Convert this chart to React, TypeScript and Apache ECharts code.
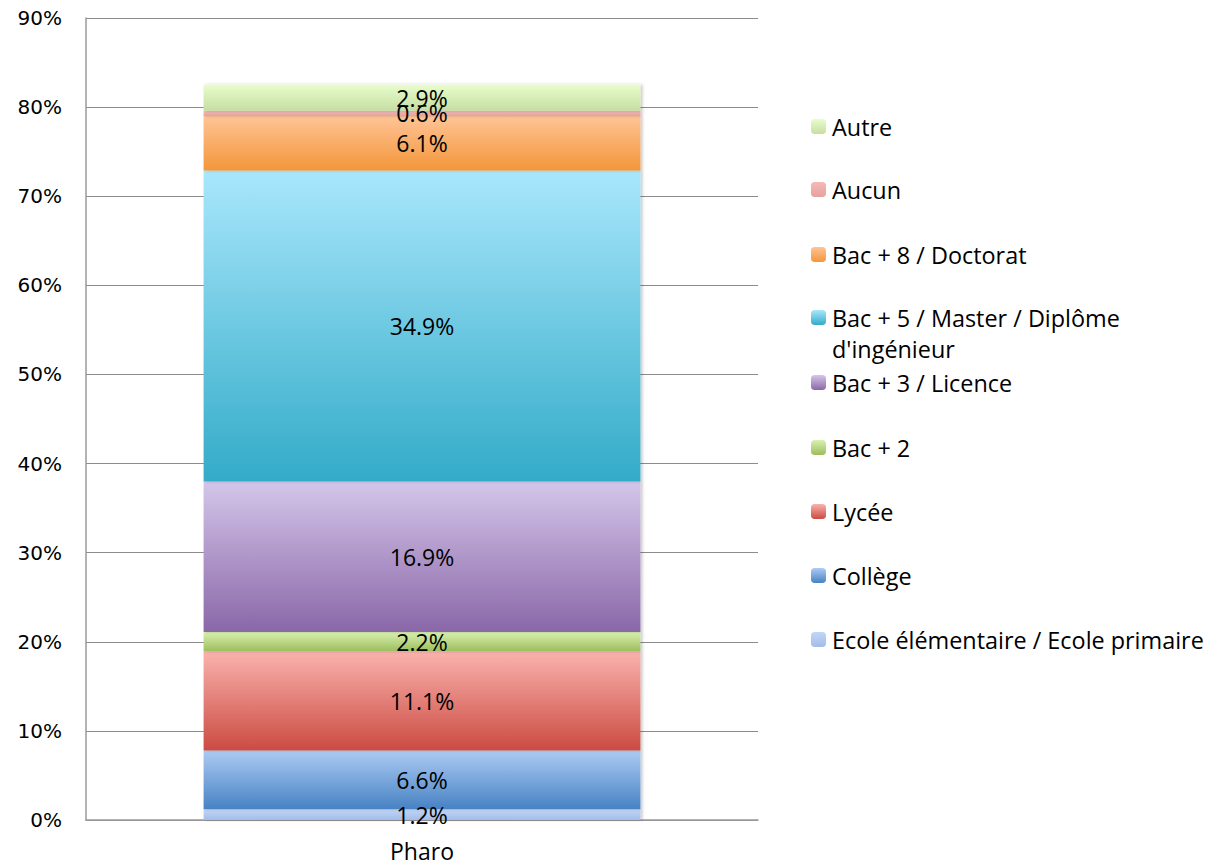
import React, { useEffect, useRef } from "react";
import * as echarts from "echarts";

const categories = ["Pharo"];
const seriesNames = [
  "Ecole élémentaire / Ecole primaire",
  "Collège",
  "Lycée",
  "Bac + 2",
  "Bac + 3 / Licence",
  "Bac + 5 / Master / Diplôme d'ingénieur",
  "Bac + 8 / Doctorat",
  "Aucun",
  "Autre",
];
const seriesValues = [1.2, 6.6, 11.1, 2.2, 16.9, 34.9, 6.1, 0.6, 2.9];
const yTicks = { min: 0, max: 90, interval: 10 };

const gradients: [string, string][] = [
  ["#c2d6f6", "#a3bde9"],
  ["#adcbf4", "#4782c3"],
  ["#fab2ad", "#cb4b42"],
  ["#d9f1b0", "#9cbd5c"],
  ["#d4c6ea", "#8a67a8"],
  ["#a9e7fc", "#33abc8"],
  ["#fec496", "#f4963a"],
  ["#f6b8b6", "#e5a2a0"],
  ["#e8fdcc", "#c6dea2"],
];

const legendOrder = [...seriesNames].reverse();
const legendIconTops = [115, 178, 243, 310, 371, 436, 500, 564, 628];

const FONT = "'Open Sans', 'Noto Sans', sans-serif";

export default function App() {
  const ref = useRef<HTMLDivElement>(null);
  useEffect(() => {
    if (!ref.current) return;
    const chart = echarts.init(ref.current, undefined, { renderer: "svg" });
    const series = seriesNames.map((name, i) => ({
      name,
      type: "bar",
      stack: "total",
      barWidth: "65%",
      data: [seriesValues[i]],
      itemStyle: {
        color: new echarts.graphic.LinearGradient(0, 0, 0, 1, [
          { offset: 0, color: gradients[i][0] },
          { offset: 1, color: gradients[i][1] },
        ]),
        shadowColor: "rgba(0,0,0,0.22)",
        shadowBlur: 3,
        shadowOffsetX: 2,
      },
      label: {
        show: true,
        position: "inside",
        color: "#000",
        fontSize: 23,
        fontFamily: FONT,
        formatter: (p: any) => `${p.value}%`,
      },
    }));
    const legends = legendOrder.map((name, i) => {
      const multi = name.startsWith("Bac + 5");
      const lh = 31;
      return {
        orient: "vertical",
        left: 811,
        top: multi ? legendIconTops[i] - (1.5 * lh - 7.5) : legendIconTops[i],
        padding: 0,
        itemWidth: 15,
        itemHeight: 15,
        selectedMode: false,
        data: [name],
        formatter: multi
          ? () => "\nBac + 5 / Master / Diplôme\nd'ingénieur"
          : undefined,
        textStyle: {
          color: "#000",
          fontSize: 23.4,
          fontFamily: FONT,
          lineHeight: multi ? lh : undefined,
          padding: [0, 0, 0, 1],
        },
      };
    });
    chart.setOption({
      animation: false,
      backgroundColor: "#fff",
      grid: { left: 86, right: 450, top: 18, bottom: 46 },
      legend: legends,
      xAxis: {
        type: "category",
        data: categories,
        axisLine: { show: true, lineStyle: { color: "#9a9a9a", width: 1.5 } },
        axisTick: { show: false },
        axisLabel: {
          color: "#000",
          fontSize: 23,
          fontFamily: FONT,
          margin: 19,
        },
      },
      yAxis: {
        type: "value",
        min: yTicks.min,
        max: yTicks.max,
        interval: yTicks.interval,
        axisLine: { show: true, lineStyle: { color: "#9a9a9a", width: 1.5 } },
        axisTick: { show: false },
        splitLine: { show: true, lineStyle: { color: "#8c8c8c", width: 1 } },
        axisLabel: {
          color: "#000",
          fontSize: 20,
          fontFamily: "'DejaVu Sans', sans-serif",
          margin: 24,
          formatter: "{value}%",
        },
      },
      series,
    });
    return () => chart.dispose();
  }, []);
  return (
    <div
      ref={ref}
      style={{ position: "fixed", left: 0, top: 0, width: 1208, height: 866 }}
    />
  );
}
